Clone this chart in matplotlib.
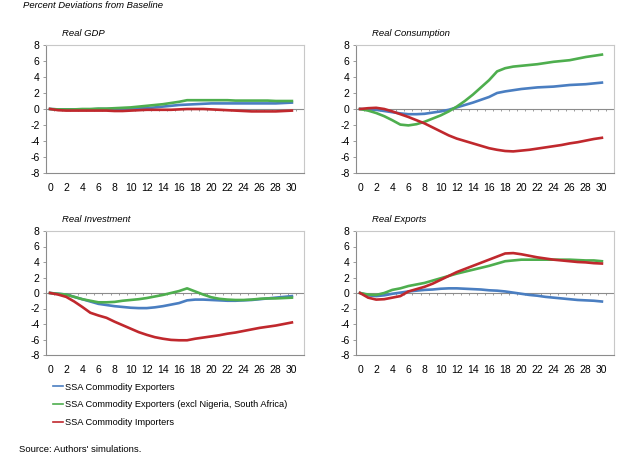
import matplotlib
matplotlib.use("Agg")
import matplotlib.pyplot as plt
import numpy as np

plt.rcParams['font.family'] = ['Liberation Sans', 'DejaVu Sans']

years = list(range(31))
xtick_labels = [str(v) for v in range(0, 31, 2)]
yticks = [8, 6, 4, 2, 0, -2, -4, -6, -8]

series_names = ["SSA Commodity Exporters",
                "SSA Commodity Exporters (excl Nigeria, South Africa)",
                "SSA Commodity Importers"]
colors = ['#4A7EC1', '#4EAE4E', '#C0282D']

gdp_exp = [0, -0.05, -0.05, -0.05, -0.05, -0.05, 0, 0, 0, 0, 0.05, 0.1, 0.1, 0.2, 0.3, 0.4,
           0.5, 0.55, 0.6, 0.65, 0.7, 0.7, 0.7, 0.7, 0.7, 0.7, 0.7, 0.7, 0.7, 0.75, 0.8]
gdp_exl = [0, -0.05, -0.05, -0.05, 0, 0, 0.05, 0.05, 0.1, 0.15, 0.2, 0.3, 0.4, 0.5, 0.6, 0.75,
           0.9, 1.1, 1.1, 1.1, 1.1, 1.1, 1.1, 1.05, 1.05, 1.05, 1.05, 1.05, 1.0, 1.0, 1.0]
gdp_imp = [0, -0.15, -0.2, -0.2, -0.2, -0.2, -0.2, -0.2, -0.25, -0.25, -0.2, -0.15, -0.1, -0.1,
           -0.1, -0.1, -0.05, 0, 0, 0, -0.05, -0.1, -0.15, -0.2, -0.25, -0.3, -0.3, -0.3, -0.3,
           -0.25, -0.2]

con_exp = [0, -0.05, -0.1, -0.25, -0.4, -0.55, -0.65, -0.65, -0.6, -0.45, -0.3, -0.1, 0.2, 0.5,
           0.8, 1.15, 1.5, 2.0, 2.2, 2.35, 2.5, 2.6, 2.7, 2.75, 2.8, 2.9, 3.0, 3.05, 3.1, 3.2, 3.3]
con_exl = [0, -0.2, -0.5, -0.9, -1.4, -1.95, -2.05, -1.9, -1.6, -1.2, -0.8, -0.3, 0.3, 1.0, 1.8,
           2.7, 3.6, 4.7, 5.1, 5.3, 5.4, 5.5, 5.6, 5.75, 5.9, 6.0, 6.1, 6.3, 6.5, 6.65, 6.8]
con_imp = [0, 0.1, 0.15, 0.0, -0.3, -0.65, -1.0, -1.4, -1.8, -2.3, -2.8, -3.3, -3.7, -4.0, -4.3,
           -4.6, -4.9, -5.1, -5.25, -5.3, -5.2, -5.1, -4.95, -4.8, -4.65, -4.5, -4.3, -4.15,
           -3.95, -3.75, -3.6]

inv_exp = [0, -0.1, -0.2, -0.5, -0.8, -1.1, -1.4, -1.55, -1.7, -1.8, -1.9, -1.95, -1.95, -1.85,
           -1.7, -1.5, -1.3, -0.95, -0.85, -0.85, -0.9, -0.95, -1.0, -1.0, -0.95, -0.9, -0.8,
           -0.7, -0.6, -0.5, -0.4]
inv_exl = [0, -0.1, -0.2, -0.5, -0.8, -1.0, -1.2, -1.2, -1.15, -1.0, -0.9, -0.8, -0.65, -0.45,
           -0.25, 0.0, 0.25, 0.6, 0.2, -0.2, -0.55, -0.75, -0.85, -0.9, -0.9, -0.85, -0.75,
           -0.7, -0.7, -0.65, -0.6]
inv_imp = [0, -0.2, -0.5, -1.1, -1.8, -2.55, -2.9, -3.2, -3.7, -4.15, -4.6, -5.05, -5.4, -5.7,
           -5.9, -6.05, -6.1, -6.1, -5.9, -5.75, -5.6, -5.45, -5.25, -5.1, -4.9, -4.7, -4.5,
           -4.35, -4.2, -4.0, -3.8]

exp_exp = [0, -0.3, -0.4, -0.3, -0.1, 0.05, 0.2, 0.3, 0.4, 0.45, 0.55, 0.6, 0.6, 0.55, 0.5,
           0.45, 0.35, 0.3, 0.2, 0.05, -0.1, -0.25, -0.35, -0.5, -0.6, -0.7, -0.8, -0.9, -0.95,
           -1.0, -1.1]
exp_exl = [0, -0.2, -0.25, 0.0, 0.4, 0.6, 0.9, 1.1, 1.3, 1.6, 1.9, 2.2, 2.5, 2.75, 3.0, 3.25,
           3.5, 3.8, 4.1, 4.2, 4.3, 4.3, 4.3, 4.3, 4.3, 4.3, 4.3, 4.25, 4.2, 4.2, 4.1]
exp_imp = [0, -0.6, -0.85, -0.8, -0.6, -0.4, 0.2, 0.5, 0.8, 1.2, 1.7, 2.2, 2.7, 3.1, 3.5, 3.9,
           4.3, 4.7, 5.1, 5.15, 5.0, 4.8, 4.6, 4.45, 4.3, 4.2, 4.1, 4.0, 3.95, 3.85, 3.8]

panels = [
    ("Real GDP", [gdp_exp, gdp_exl, gdp_imp]),
    ("Real Consumption", [con_exp, con_exl, con_imp]),
    ("Real Investment", [inv_exp, inv_exl, inv_imp]),
    ("Real Exports", [exp_exp, exp_exl, exp_imp]),
]

W, H = 637, 458
fig = plt.figure(figsize=(W / 100, H / 100), dpi=100)

# axes rectangles in pixels: left, top, right, bottom
rects = [(46, 45, 304, 173), (356, 45, 614, 173),
         (46, 231, 304, 355), (356, 231, 614, 355)]

axes = []
for (title, data), (l, t, r, b) in zip(panels, rects):
    ax = fig.add_axes([l / W, 1 - b / H, (r - l) / W, (b - t) / H])
    axes.append(ax)
    ax.set_xlim(-0.5, 31.5)
    ax.set_ylim(-8, 8)
    ax.axhline(0, color='#8C8C8C', lw=0.8, zorder=1)
    bounds = np.arange(-0.5, 32, 1.0)
    ax.vlines(bounds, -0.3, 0, color='#8C8C8C', lw=0.6, zorder=1)
    for vals, c, name in zip(data, colors, series_names):
        ax.plot(years, vals, color=c, lw=1.9, label=name, zorder=3,
                solid_joinstyle='round')
    ax.set_yticks(yticks)
    ax.set_yticklabels([str(v) for v in yticks])
    ax.set_xticks(range(0, 31, 2))
    ax.set_xticklabels(xtick_labels)
    ax.tick_params(axis='x', length=0, pad=7, labelsize=7.5, colors='black')
    ax.tick_params(axis='y', length=2.5, width=0.6, color='#8C8C8C', pad=2,
                   labelsize=7.5)
    for s in ['left', 'bottom']:
        ax.spines[s].set_color('#8C8C8C')
        ax.spines[s].set_linewidth(0.8)
    for s in ['top', 'right']:
        ax.spines[s].set_color('#C8C8C8')
        ax.spines[s].set_linewidth(0.8)
    fig.text((l + 16) / W, 1 - (t - 12) / H, title, fontsize=6.8, style='italic',
             va='center', ha='left')

fig.text(23 / W, 1 - 6 / H, "Percent Deviations from Baseline", fontsize=6.8,
         style='italic', va='center', ha='left')

handles, labels = axes[0].get_legend_handles_labels()
leg = fig.legend(handles, labels, loc='upper left',
                 bbox_to_anchor=(53 / W, 1 - 382.5 / H), frameon=False,
                 fontsize=6.7, handlelength=1.05, handletextpad=0.2,
                 labelspacing=0.95, borderaxespad=0, borderpad=0)
for ln in leg.get_lines():
    ln.set_linewidth(1.2)

fig.text(19 / W, 1 - 449 / H, "Source: Authors' simulations.", fontsize=6.8,
         va='center', ha='left')

fig.savefig("out.png", dpi=100)
